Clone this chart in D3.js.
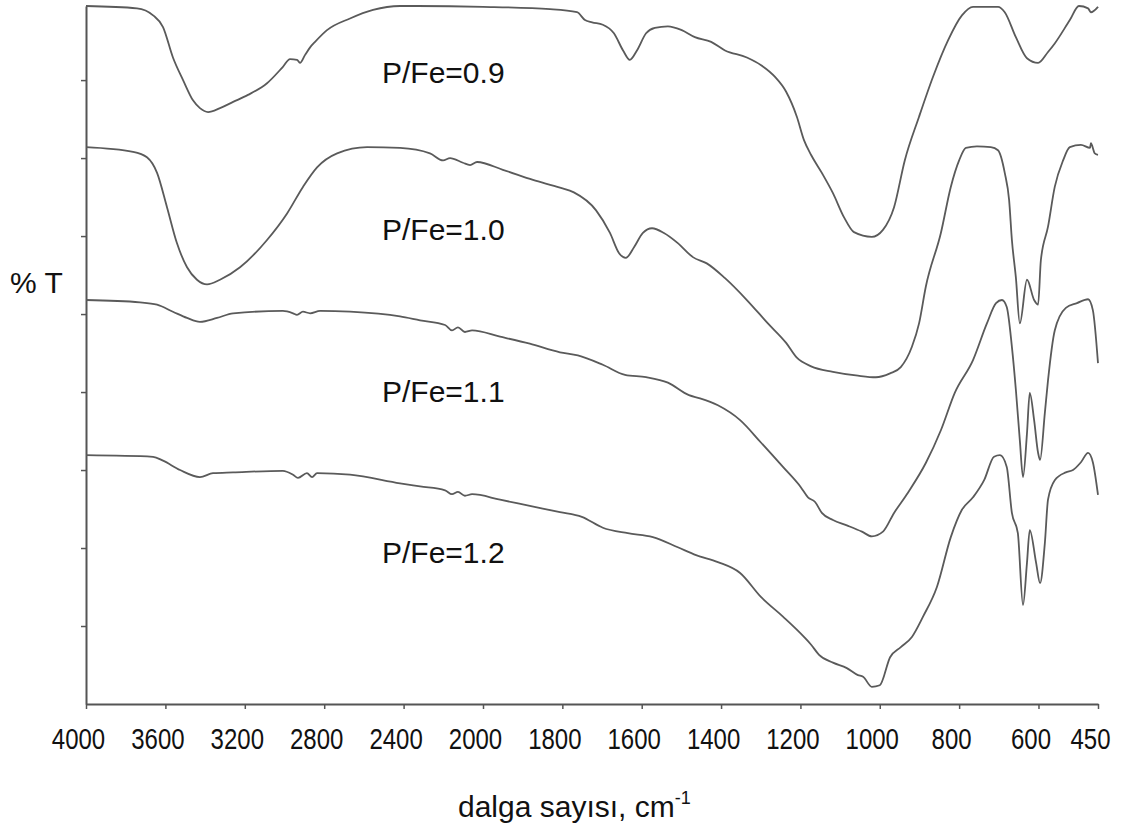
<!DOCTYPE html>
<html>
<head>
<meta charset="utf-8">
<script src="https://cdn.jsdelivr.net/npm/d3@7"></script>
<style>
  body { margin: 0; background: #fff; }
  svg { display: block; font-family: "Liberation Sans", Arial, sans-serif; }
</style>
</head>
<body>
<svg id="chart" width="1123" height="825"></svg>
<script>
// ------------------------------
// DONNEES : spectres FTIR (cm-1, %T)
// ------------------------------
const seriesNames = ["P/Fe=0.9", "P/Fe=1.0", "P/Fe=1.1", "P/Fe=1.2"];

const xTickValues = [4000, 3600, 3200, 2800, 2400, 2000, 1800, 1600, 1400, 1200, 1000, 800, 600, 450];
const yTickValues = [10, 20, 30, 40, 50, 60, 70, 80];

const pfe09 = [
  [4000, 89.5], [3743, 89.2], [3662, 88.3], [3612, 86.8], [3562, 82.9], [3511, 80.0], [3461, 77.4],
  [3426, 76.4], [3385, 75.9], [3325, 76.4], [3259, 77.2], [3184, 78.1], [3088, 79.6], [3008, 81.7],
  [2972, 82.7], [2937, 82.6], [2922, 82.2], [2897, 83.2], [2871, 84.2], [2846, 84.9], [2786, 86.4],
  [2670, 87.9], [2554, 89.0], [2418, 89.5], [2332, 89.5], [2000, 89.4], [1831, 89.1], [1763, 88.7],
  [1743, 87.7], [1725, 87.4], [1698, 87.1], [1670, 86.0], [1647, 83.8], [1630, 82.6], [1612, 83.8],
  [1589, 86.0], [1567, 86.7], [1534, 86.9], [1499, 86.4], [1466, 85.5], [1425, 84.9], [1390, 83.8],
  [1335, 82.9], [1299, 81.9], [1264, 80.4], [1236, 78.5], [1209, 75.3], [1191, 72.3], [1173, 70.4],
  [1146, 68.1], [1118, 65.5], [1090, 62.4], [1065, 60.5], [1020, 59.9], [992, 60.8], [964, 63.7],
  [937, 69.7], [901, 75.3], [866, 80.4], [828, 85.1], [793, 88.3], [765, 89.4], [702, 89.4],
  [685, 88.7], [657, 85.5], [629, 82.8], [601, 82.2], [576, 83.6], [559, 84.7], [521, 87.7],
  [498, 89.5], [475, 89.2], [468, 88.7], [450, 89.4]
];

const pfe10 = [
  [4000, 71.4], [3763, 70.8], [3693, 70.1], [3642, 68.1], [3592, 63.7], [3542, 59.1], [3491, 56.0],
  [3441, 54.4], [3390, 53.8], [3325, 54.4], [3224, 56.0], [3088, 59.5], [2987, 62.9], [2907, 66.3],
  [2836, 68.8], [2735, 70.6], [2584, 71.4], [2418, 71.3], [2267, 70.6], [2201, 69.7], [2166, 70.0],
  [2101, 69.4], [2065, 69.1], [2030, 69.5], [1950, 68.5], [1874, 67.2], [1806, 66.2], [1771, 65.6],
  [1715, 63.3], [1680, 60.4], [1657, 57.8], [1640, 57.2], [1619, 58.6], [1597, 60.4], [1574, 61.0],
  [1544, 60.4], [1509, 59.1], [1471, 57.3], [1436, 56.5], [1390, 54.6], [1335, 51.8], [1282, 48.8],
  [1236, 46.3], [1209, 44.4], [1173, 43.3], [1118, 42.6], [1055, 42.1], [1010, 41.9], [974, 42.4],
  [947, 43.2], [919, 45.8], [901, 48.8], [884, 53.5], [846, 60.4], [821, 66.3], [800, 69.7],
  [783, 71.3], [755, 71.5], [720, 71.4], [702, 71.0], [685, 68.1], [674, 64.6], [667, 59.5],
  [657, 54.7], [647, 48.8], [629, 54.4], [611, 51.8], [601, 51.2], [594, 56.9], [576, 61.2],
  [559, 66.3], [538, 69.7], [521, 71.4], [493, 71.7], [470, 71.3], [468, 71.9], [458, 70.6], [450, 70.4]
];

const pfe11 = [
  [4000, 51.8], [3728, 51.5], [3642, 51.2], [3562, 50.3], [3491, 49.5], [3426, 49.0], [3340, 49.5],
  [3259, 50.1], [3008, 50.4], [2957, 50.1], [2937, 49.9], [2907, 50.3], [2871, 50.1], [2821, 50.4],
  [2670, 50.3], [2418, 49.7], [2317, 49.2], [2191, 48.6], [2156, 47.9], [2126, 48.3], [2091, 47.7],
  [2055, 47.9], [1957, 47.1], [1882, 46.2], [1806, 45.1], [1761, 44.7], [1698, 43.5], [1642, 42.2],
  [1589, 41.9], [1534, 41.2], [1481, 39.6], [1453, 39.2], [1408, 38.3], [1352, 36.4], [1299, 33.5],
  [1244, 30.4], [1199, 27.8], [1181, 26.5], [1163, 25.9], [1146, 24.5], [1118, 23.6], [1083, 22.9],
  [1045, 22.1], [1020, 21.5], [992, 22.1], [964, 24.5], [929, 27.1], [884, 30.9], [846, 35.1],
  [811, 39.9], [765, 44.1], [730, 48.8], [707, 51.4], [692, 51.8], [680, 50.9], [667, 45.8],
  [657, 40.3], [647, 33.8], [639, 29.1], [629, 34.7], [622, 39.9], [611, 36.4], [601, 32.2],
  [596, 31.3], [584, 37.3], [576, 41.5], [559, 47.9], [531, 50.8], [503, 51.4], [475, 51.9],
  [463, 50.5], [450, 43.7]
];

const pfe12 = [
  [4000, 31.9], [3662, 31.7], [3612, 31.2], [3526, 30.0], [3426, 29.1], [3360, 29.6], [3259, 29.7],
  [3008, 29.9], [2957, 29.4], [2932, 29.0], [2887, 29.6], [2861, 29.1], [2836, 29.6], [2670, 29.4],
  [2418, 28.3], [2317, 27.9], [2191, 27.4], [2156, 26.9], [2126, 27.2], [2091, 26.7], [2055, 26.9],
  [1957, 26.2], [1882, 25.4], [1806, 24.6], [1751, 24.0], [1698, 22.6], [1635, 21.9], [1572, 21.4],
  [1509, 20.1], [1463, 19.1], [1408, 18.2], [1352, 16.8], [1299, 13.7], [1244, 11.2], [1191, 8.6],
  [1173, 7.6], [1153, 6.3], [1118, 5.3], [1083, 4.6], [1055, 3.7], [1042, 3.5], [1020, 2.2],
  [1000, 2.4], [974, 6.0], [947, 7.3], [919, 8.6], [891, 11.2], [856, 15.0], [821, 21.4],
  [793, 24.9], [765, 26.5], [737, 28.7], [712, 31.7], [697, 31.9], [680, 30.4], [667, 24.5],
  [652, 21.9], [639, 12.7], [629, 18.1], [622, 22.3], [606, 18.1], [596, 15.5], [584, 20.6],
  [576, 26.2], [559, 28.7], [531, 29.7], [513, 30.0], [493, 31.0], [475, 32.2], [463, 31.0], [450, 26.8]
];

const allSeries = [pfe09, pfe10, pfe11, pfe12];

// ------------------------------
// ECHELLES (echelle dilatee sous 2000 cm-1)
// ------------------------------
const svg = d3.select("#chart");
const plotLeft = 86, plotRight = 1098, plotTop = 6, plotBottom = 704;

const x = d3.scaleLinear().domain([4000, 2000, 450]).range([plotLeft, 483, plotRight]);
const y = d3.scaleLinear().domain([0, 89.5]).range([plotBottom, plotTop]);

// ------------------------------
// AXES
// ------------------------------
const xAxis = svg.append("g")
  .attr("transform", `translate(0,${plotBottom})`)
  .call(d3.axisBottom(x).tickValues(xTickValues).tickSize(5).tickSizeOuter(0).tickFormat(d3.format("d")));

xAxis.select(".domain").attr("stroke", "#555").attr("stroke-width", 2);
xAxis.selectAll(".tick line").attr("stroke", "#555").attr("stroke-width", 1.5);
xAxis.selectAll(".tick text")
  .attr("y", 45)
  .attr("dy", 0)
  .attr("dx", -10)
  .attr("fill", "#111")
  .attr("font-size", 30)
  .attr("font-family", "Liberation Sans, Arial, sans-serif")
  .attr("transform", "scale(0.8,1)");

const yAxis = svg.append("g")
  .attr("transform", `translate(${plotLeft},0)`)
  .call(d3.axisLeft(y).tickValues(yTickValues).tickSize(5).tickSizeOuter(0).tickFormat(""));

yAxis.select(".domain").attr("stroke", "#555").attr("stroke-width", 2);
yAxis.selectAll(".tick line").attr("stroke", "#555").attr("stroke-width", 1.5);

// ------------------------------
// COURBES
// ------------------------------
const line = d3.line()
  .x(d => x(d[0]))
  .y(d => y(d[1]))
  .curve(d3.curveMonotoneX);

svg.append("g").selectAll("path")
  .data(allSeries).enter()
  .append("path")
  .attr("d", line)
  .attr("fill", "none")
  .attr("stroke", "#5a5a5a")
  .attr("stroke-width", 1.8)
  .attr("stroke-linejoin", "round");

// etiquettes des series
const labelBaselines = [83, 240, 402, 563];
svg.append("g").selectAll("text")
  .data(seriesNames).enter()
  .append("text")
  .attr("x", 382)
  .attr("y", (d, i) => labelBaselines[i])
  .attr("font-size", 30)
  .attr("fill", "#111")
  .text(d => d);

// ------------------------------
// TITRES DES AXES
// ------------------------------
svg.append("text")
  .attr("x", 10).attr("y", 293)
  .attr("font-size", 30)
  .attr("fill", "#111")
  .text("% T");

const xt = svg.append("text")
  .attr("x", 458).attr("y", 817)
  .attr("font-size", 30)
  .attr("fill", "#111");
xt.append("tspan").text("dalga sayısı, cm");
xt.append("tspan").attr("dy", -13).attr("font-size", 18).text("-1");
</script>
</body>
</html>
